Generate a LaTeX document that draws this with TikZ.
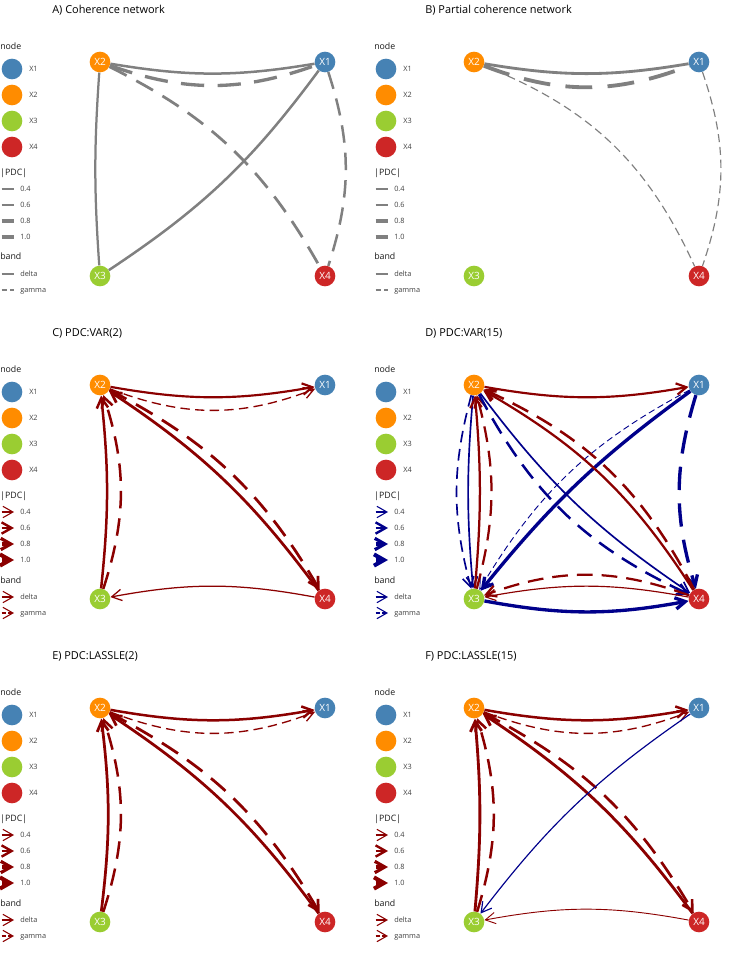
\documentclass[tikz,border=0pt]{standalone}
\usepackage{fontspec}
\setmainfont{Open Sans}
\usetikzlibrary{arrows.meta}
\definecolor{cXa}{HTML}{4682B4}
\definecolor{cXb}{HTML}{FF8C00}
\definecolor{cXc}{HTML}{9ACD32}
\definecolor{cXd}{HTML}{CD2626}
\definecolor{egray}{HTML}{808080}
\definecolor{ered}{HTML}{8B0000}
\definecolor{eblue}{HTML}{00008B}
\tikzset{
  nd/.style={circle, inner sep=0pt, minimum size=15.5pt, text=white, font=\fontsize{7.5}{8}\selectfont},
  lgc/.style={circle, inner sep=0pt, minimum size=15.5pt},
  ttl/.style={anchor=base west, inner sep=0pt, font=\fontsize{8.2}{9}\selectfont, text=black},
  lgt/.style={anchor=base west, inner sep=0pt, font=\fontsize{6.6}{7}\selectfont, text=black!90},
  lgl/.style={anchor=base west, inner sep=0pt, font=\fontsize{5.5}{6}\selectfont, text=black!75},
  ln/.style={line width=1.25*#1},
  dsh/.style={dash pattern=on 7\pgflinewidth off 4\pgflinewidth},
  arr/.style={-{Straight Barb[length=7.5pt,width=8.5pt]}},
}
\newcommand\fournodes[1]{%
  \node[nd, fill=cXb] (#1x2) at (100,62) {X2};
  \node[nd, fill=cXa] (#1x1) at (325,62) {X1};
  \node[nd, fill=cXc] (#1x3) at (100,276) {X3};
  \node[nd, fill=cXd] (#1x4) at (325,276) {X4};
}
\newcommand\legcommon[1]{%
  \node[lgt] (#1ln) at (0,49.5) {node};
  \node[lgc, fill=cXa] (#1lc1) at (12,69) {};
  \node[lgc, fill=cXb] (#1lc2) at (12,95) {};
  \node[lgc, fill=cXc] (#1lc3) at (12,121) {};
  \node[lgc, fill=cXd] (#1lc4) at (12,147) {};
  \node[lgl] (#1lx1) at (29,71.6) {X1};
  \node[lgl] (#1lx2) at (29,97.6) {X2};
  \node[lgl] (#1lx3) at (29,123.6) {X3};
  \node[lgl] (#1lx4) at (29,149.6) {X4};
  \node[lgt] (#1lp) at (0,175.5) {|PDC|};
  \node[lgl] (#1lv1) at (20,191.6) {0.4};
  \node[lgl] (#1lv2) at (20,207.6) {0.6};
  \node[lgl] (#1lv3) at (20,223.6) {0.8};
  \node[lgl] (#1lv4) at (20,239.6) {1.0};
  \node[lgt] (#1lb) at (0,260) {band};
  \node[lgl] (#1ld) at (20,276.6) {delta};
  \node[lgl] (#1lg) at (20,292.6) {gamma};
}
\newcommand\leglines{%
  \draw[egray, line width=0.9pt] (1.5,189) -- (13.5,189);
  \draw[egray, line width=1.8pt] (1.5,205) -- (13.5,205);
  \draw[egray, line width=2.4pt] (1.5,221) -- (13.5,221);
  \draw[egray, line width=3pt] (1.5,237) -- (13.5,237);
  \draw[egray, line width=0.9pt] (1.5,274) -- (13.5,274);
  \draw[egray, line width=0.9pt, dash pattern=on 4pt off 2.5pt] (1.5,290) -- (13.5,290);
}
\newcommand\legarrows[1]{%
  \draw[#1, line width=0.8pt, arr] (1.5,189) -- (14,189);
  \draw[#1, line width=1.8pt, arr] (1.5,205) -- (14,205);
  \draw[#1, line width=2.4pt, arr] (1.5,221) -- (14,221);
  \draw[#1, line width=3pt, arr] (1.5,237) -- (14,237);
  \draw[#1, line width=0.8pt, arr] (1.5,274) -- (14,274);
  \draw[#1, line width=0.8pt, arr, dash pattern=on 3pt off 2pt] (1.5,290) -- (14,290);
}
\begin{document}
\begin{tikzpicture}[x=0.75pt, y=-0.75pt]
\useasboundingbox (0,0) rectangle (747,969);
% ---------- A
\begin{scope}
  \node[ttl] (ta) at (52,13.5) {A) Coherence network};
  \legcommon{a}\leglines
  \fournodes{a}
  \draw[egray, ln=1.5pt] (ax2) to[bend right=9.5] (ax1);
  \draw[egray, ln=2pt, dsh] (ax2) to[bend right=19.5] (ax1);
  \draw[egray, ln=1.65pt, dsh] (ax2) to[bend left=17] (ax4);
  \draw[egray, ln=1.5pt] (ax3) to[bend right=10] (ax1);
  \draw[egray, ln=1.35pt] (ax2) to[bend right=4] (ax3);
  \draw[egray, ln=1.5pt, dsh] (ax1) to[bend left=18] (ax4);
\end{scope}
% ---------- B
\begin{scope}[shift={(374,0)}]
  \node[ttl] (tb) at (51,13.5) {B) Partial coherence network};
  \legcommon{b}\leglines
  \fournodes{b}
  \draw[egray, ln=1.7pt] (bx2) to[bend right=9.5] (bx1);
  \draw[egray, ln=2.3pt, dsh] (bx2) to[bend right=21] (bx1);
  \draw[egray, ln=0.7pt, dsh] (bx2) to[bend left=22] (bx4);
  \draw[egray, ln=0.7pt, dsh] (bx1) to[bend left=19] (bx4);
\end{scope}
% ---------- C
\begin{scope}[shift={(0,323)}]
  \node[ttl] (tc) at (52,13.5) {C) PDC:VAR(2)};
  \legcommon{c}\legarrows{ered}
  \fournodes{c}
  \begin{scope}[ered, arr]
  \draw[ln=1.3pt] (cx2) to[bend right=10] (cx1);
  \draw[ln=0.8pt, dsh] (cx2) to[bend right=21] (cx1);
  \draw[ln=1.5pt] (cx3) to[bend right=6] (cx2);
  \draw[ln=1.5pt, dsh] (cx3) to[bend right=18] (cx2);
  \draw[ln=1.65pt] (cx4) to[bend right=10] (cx2);
  \draw[ln=1.65pt, dsh] (cx2) to[bend left=16] (cx4);
  \draw[ln=0.75pt] (cx4) to[bend right=10.5] (cx3);
  \end{scope}
\end{scope}
% ---------- D
\begin{scope}[shift={(374,323)}]
  \node[ttl] (td) at (51,13.5) {D) PDC:VAR(15)};
  \legcommon{d}\legarrows{eblue}
  \fournodes{d}
  \begin{scope}[arr]
  \draw[ered, ln=1.3pt] (dx2) to[bend right=10] (dx1);
  \draw[eblue, ln=2pt] (dx1) to[bend right=7.5] (dx3);
  \draw[eblue, ln=0.55pt, dsh] (dx1) to[bend right=15.6] (dx3);
  \draw[eblue, ln=2pt, dsh] (dx1) to[bend right=17] (dx4);
  \draw[eblue, ln=1pt, dsh] (dx2) to[bend right=15] (dx3);
  \draw[eblue, ln=1pt] (dx2) to[bend right=5] (dx3);
  \draw[ered, ln=1.35pt] (dx3) to[bend right=5] (dx2);
  \draw[ered, ln=1.35pt, dsh] (dx3) to[bend right=15] (dx2);
  \draw[eblue, ln=1pt] (dx2) to[bend right=9.5] (dx4);
  \draw[eblue, ln=1.5pt, dsh] (dx2) to[bend right=18.5] (dx4);
  \draw[ered, ln=1.35pt] (dx4) to[bend right=13.6] (dx2);
  \draw[ered, ln=1.5pt, dsh] (dx4) to[bend right=19] (dx2);
  \draw[ered, ln=0.7pt] (dx4) to[bend right=10.5] (dx3);
  \draw[ered, ln=1.35pt, dsh] (dx4) to[bend right=20] (dx3);
  \draw[eblue, ln=2pt] (dx3) to[bend right=10.5] (dx4);
  \end{scope}
\end{scope}
% ---------- E
\begin{scope}[shift={(0,646)}]
  \node[ttl] (te) at (52,13.5) {E) PDC:LASSLE(2)};
  \legcommon{e}\legarrows{ered}
  \fournodes{e}
  \begin{scope}[ered, arr]
  \draw[ln=1.5pt] (ex2) to[bend right=10] (ex1);
  \draw[ln=0.8pt, dsh] (ex2) to[bend right=21] (ex1);
  \draw[ln=1.65pt] (ex3) to[bend right=7] (ex2);
  \draw[ln=1.5pt, dsh] (ex3) to[bend right=18] (ex2);
  \draw[ln=1.65pt] (ex4) to[bend right=10] (ex2);
  \draw[ln=1.65pt, dsh] (ex2) to[bend left=16] (ex4);
  \end{scope}
\end{scope}
% ---------- F
\begin{scope}[shift={(374,646)}]
  \node[ttl] (tf) at (51,13.5) {F) PDC:LASSLE(15)};
  \legcommon{f}\legarrows{ered}
  \fournodes{f}
  \begin{scope}[arr]
  \draw[ered, ln=1.5pt] (fx2) to[bend right=10] (fx1);
  \draw[ered, ln=0.8pt, dsh] (fx2) to[bend right=21] (fx1);
  \draw[ered, ln=1.7pt] (fx3) to[bend right=5] (fx2);
  \draw[ered, ln=1.5pt, dsh] (fx3) to[bend right=17] (fx2);
  \draw[ered, ln=1.7pt] (fx4) to[bend right=10] (fx2);
  \draw[ered, ln=1.6pt, dsh] (fx2) to[bend left=16] (fx4);
  \draw[eblue, ln=0.7pt] (fx1) to[bend right=9] (fx3);
  \draw[ered, ln=0.55pt] (fx4) to[bend right=10.5] (fx3);
  \end{scope}
\end{scope}
\end{tikzpicture}
\end{document}
